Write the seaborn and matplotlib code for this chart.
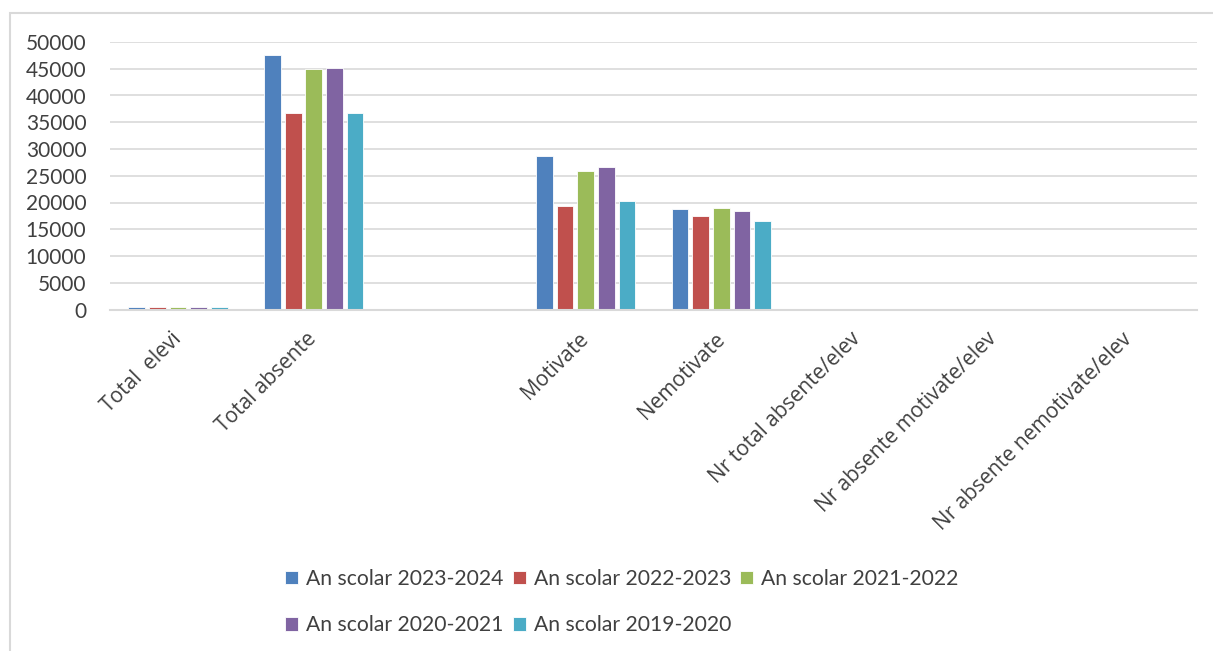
import matplotlib
matplotlib.use("Agg")
import matplotlib.pyplot as plt
import seaborn as sns
import pandas as pd
import numpy as np

categories = ["Total  elevi", "Total absente", " ", "Motivate", "Nemotivate",
              "Nr total absente/elev", "Nr absente motivate/elev", "Nr absente nemotivate/elev"]
series = ["An scolar 2023-2024", "An scolar 2022-2023", "An scolar 2021-2022",
          "An scolar 2020-2021", "An scolar 2019-2020"]
v_2023_2024 = [480, 47550, np.nan, 28700, 18850, 99, 60, 39]
v_2022_2023 = [470, 36750, np.nan, 19300, 17500, 78, 41, 37]
v_2021_2022 = [460, 45000, np.nan, 25900, 19050, 98, 56, 41]
v_2020_2021 = [470, 45050, np.nan, 26600, 18500, 96, 57, 39]
v_2019_2020 = [480, 36750, np.nan, 20300, 16500, 77, 42, 34]
colors = ["#4F81BD", "#C0504D", "#9BBB59", "#8064A2", "#4BACC6"]

rows = []
for s, vals in zip(series, [v_2023_2024, v_2022_2023, v_2021_2022, v_2020_2021, v_2019_2020]):
    for c, v in zip(categories, vals):
        rows.append({"cat": c, "series": s, "val": v})
df = pd.DataFrame(rows)

sns.set_theme(style="white")
plt.rcParams["font.family"] = ["Open Sans", "DejaVu Sans"]

fig = plt.figure(figsize=(12.13, 6.51), dpi=100)
ax = fig.add_axes([110/1213, 1 - 309.5/651, (1197-110)/1213, (309.5-42)/651])

sns.barplot(data=df, x="cat", y="val", hue="series", order=categories, hue_order=series,
            palette=colors, width=0.76, gap=0.19, ax=ax, errorbar=None, saturation=1,
            edgecolor="white", linewidth=0.6)

ax.set_ylim(0, 50000)
ax.set_xlim(-0.5, len(categories) - 0.5)
ax.set_yticks(np.arange(0, 50001, 5000))
ax.yaxis.grid(True, color="#D9D9D9", linewidth=1.2)
ax.set_axisbelow(True)
for sp in ["left", "right", "top"]:
    ax.spines[sp].set_visible(False)
ax.spines["bottom"].set_color("#D9D9D9")
ax.spines["bottom"].set_linewidth(1.5)
ax.set_xlabel("")
ax.set_ylabel("")
ax.tick_params(axis="y", length=0, pad=17, labelsize=14, labelcolor="#404040")
ax.tick_params(axis="x", length=0, pad=19, labelsize=15, labelcolor="#404040")
for lab in ax.get_yticklabels():
    lab.set_family(["Lato", "DejaVu Sans"])
    lab.set_fontsize(15)
for lab in ax.get_xticklabels():
    lab.set_rotation(45)
    lab.set_ha("right")
    lab.set_va("center")
    lab.set_rotation_mode("anchor")

handles, labels = ax.get_legend_handles_labels()
ax.legend_.remove()
order = [0, 3, 1, 4, 2]
leg = fig.legend([handles[i] for i in order], [labels[i] for i in order],
                 loc="center", bbox_to_anchor=(622/1213, 1 - 602/651),
                 ncol=3, frameon=False, prop={"family": ["Lato", "DejaVu Sans"], "size": 15.2},
                 handlelength=0.62, handleheight=0.62,
                 handletextpad=0.38, columnspacing=0.43, labelspacing=1.25,
                 labelcolor="#404040")

border = plt.Rectangle((10/1213, 0 - 0.01), 1.02, 1 - 13/651 + 0.01, transform=fig.transFigure,
                       fill=False, edgecolor="#D9D9D9", linewidth=1.5)
fig.add_artist(border)

fig.savefig("out.png", dpi=100, facecolor="white")
